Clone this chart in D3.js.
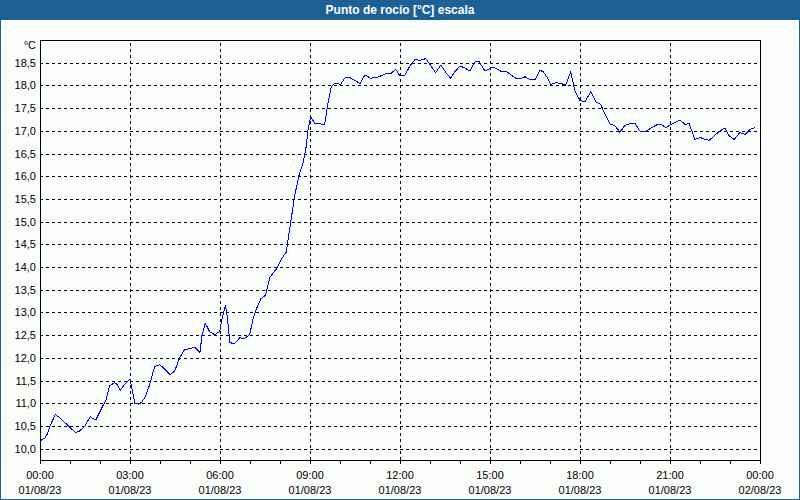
<!DOCTYPE html>
<html>
<head>
<meta charset="utf-8">
<script src="https://cdn.jsdelivr.net/npm/d3@7"></script>
<style>
  body { margin: 0; background: #ffffff; }
  #graf { width: 800px; height: 500px; }
</style>
</head>
<body>
<div id="graf"></div>
<script>
// Punto de rocío - 01/08/23

// horas del dia (desde las 00:00) de cada punto leido
horas = [
  0.02, 0.16, 0.24, 0.36, 0.51, 0.66, 0.93, 1.19, 1.32, 1.49, 1.68, 1.77, 1.86, 2.04, 2.21, 2.32,
  2.47, 2.54, 2.68, 2.82, 3.0, 3.09, 3.16, 3.30, 3.40, 3.52, 3.66, 3.82, 3.99, 4.16, 4.34, 4.49,
  4.66, 4.82, 5.04, 5.16, 5.24, 5.33, 5.40, 5.51, 5.66, 5.82, 5.99, 6.04, 6.18, 6.24, 6.33, 6.49,
  6.66, 6.82, 6.99, 7.10, 7.21, 7.36, 7.52, 7.66, 7.88, 8.04, 8.21, 8.32, 8.49, 8.63, 8.77, 8.86,
  8.93, 9.02, 9.16, 9.49, 9.60, 9.71, 9.84, 10.02, 10.17, 10.33, 10.5, 10.67, 10.83, 11.02, 11.22, 11.53,
  11.69, 11.86, 12.0, 12.17, 12.33, 12.5, 12.67, 12.86, 13.02, 13.19, 13.36, 13.53, 13.69, 13.83, 14.0, 14.17,
  14.33, 14.5, 14.64, 14.83, 15.06, 15.2, 15.39, 15.56, 15.7, 15.86, 16.06, 16.17, 16.33, 16.5, 16.67, 16.78,
  16.89, 17.02, 17.2, 17.39, 17.52, 17.69, 17.83, 18.0, 18.17, 18.36, 18.53, 18.69, 18.83, 19.0, 19.17, 19.33,
  19.5, 19.67, 19.83, 20.0, 20.2, 20.39, 20.58, 20.72, 20.87, 21.0, 21.17, 21.33, 21.5, 21.64, 21.83, 22.02,
  22.17, 22.31, 22.47, 22.67, 22.83, 22.97, 23.14, 23.33, 23.5, 23.67, 23.83
]

// punto de rocio en °C
rocio = [
  10.18, 10.23, 10.32, 10.54, 10.75, 10.68, 10.51, 10.35, 10.39, 10.49, 10.71, 10.66, 10.63, 10.87, 11.09, 11.38,
  11.45, 11.44, 11.29, 11.42, 11.53, 11.24, 11.00, 10.98, 11.03, 11.15, 11.42, 11.81, 11.85, 11.75, 11.63, 11.71,
  12.01, 12.18, 12.21, 12.23, 12.18, 12.12, 12.49, 12.76, 12.57, 12.51, 12.58, 12.78, 13.16, 12.92, 12.33, 12.32,
  12.44, 12.43, 12.51, 12.85, 13.07, 13.30, 13.38, 13.77, 13.96, 14.17, 14.33, 14.83, 15.57, 16.01, 16.30, 16.59,
  17.00, 17.31, 17.17, 17.14, 17.62, 17.97, 18.05, 18.02, 18.17, 18.17, 18.11, 18.04, 18.23, 18.16, 18.17, 18.26,
  18.26, 18.35, 18.21, 18.23, 18.43, 18.57, 18.55, 18.59, 18.44, 18.28, 18.45, 18.28, 18.16, 18.30, 18.43, 18.38,
  18.32, 18.52, 18.52, 18.32, 18.39, 18.38, 18.30, 18.30, 18.23, 18.16, 18.16, 18.19, 18.13, 18.13, 18.33, 18.30,
  18.19, 18.02, 18.06, 18.04, 18.00, 18.30, 17.88, 17.67, 17.64, 17.86, 17.64, 17.58, 17.37, 17.15, 17.11, 16.97,
  17.12, 17.16, 17.17, 16.99, 16.99, 17.07, 17.14, 17.13, 17.07, 17.13, 17.18, 17.24, 17.14, 17.16, 16.81, 16.85,
  16.81, 16.79, 16.89, 17.00, 17.06, 16.89, 16.81, 16.96, 16.92, 17.03, 17.07
]

// etiquetas del eje y
yTicks = [10, 10.5, 11, 11.5, 12, 12.5, 13, 13.5, 14, 14.5, 15, 15.5, 16, 16.5, 17, 17.5, 18, 18.5]

// etiquetas del eje x (cada 3 horas)
xTicks  = [0, 3, 6, 9, 12, 15, 18, 21, 24]
xHoras  = ['00:00', '03:00', '06:00', '09:00', '12:00', '15:00', '18:00', '21:00', '00:00']
xFechas = ['01/08/23', '01/08/23', '01/08/23', '01/08/23', '01/08/23', '01/08/23', '01/08/23', '01/08/23', '02/08/23']

titulo = 'Punto de rocío [°C] escala'

ancho_total = 800
alto_total  = 500

margins = {
  top: 40,
  left: 40,
  right: 40,
  bottom: 40
}
ancho = ancho_total - margins.left - margins.right
alto  = alto_total - margins.top - margins.bottom

fuente = 'Liberation Sans, Arial, sans-serif'
azul_marco = '#1d6096'

svg = d3.select('#graf').append('svg')
        .attr('width', ancho_total)
        .attr('height', alto_total)
        .style('font-family', fuente)

// fondo y marco
svg.append('rect')
  .attr('x', 0.5)
  .attr('y', 0.5)
  .attr('width', ancho_total - 1)
  .attr('height', alto_total - 1)
  .attr('fill', '#fbfdfb')
  .attr('stroke', azul_marco)

// barra del titulo
svg.append('rect')
  .attr('x', 0)
  .attr('y', 0)
  .attr('width', ancho_total)
  .attr('height', 20)
  .attr('fill', azul_marco)

svg.append('text')
  .attr('x', ancho_total / 2)
  .attr('y', 14)
  .attr('text-anchor', 'middle')
  .attr('font-size', '12px')
  .attr('font-weight', 'bold')
  .attr('fill', 'white')
  .text(titulo)

g = svg.append('g')
        .attr('transform', `translate(${ margins.left }, ${ margins.top })`)

// Escaladores
x = d3.scaleLinear().domain([0, 24]).range([0, ancho])
y = d3.scaleLinear().domain([9.75, 19.0]).range([alto, 0])

coma = d3.formatLocale({ decimal: ',', thousands: '.', grouping: [3], currency: ['', '€'] }).format('.1f')

// grilla horizontal
yAxisG = d3.axisLeft(y)
          .tickValues(yTicks)
          .tickFormat('')
          .tickSize(-ancho)
gy = g.append('g').call(yAxisG)
gy.select('.domain').remove()
gy.selectAll('line')
  .attr('stroke', 'black')
  .attr('stroke-dasharray', '3,3')
  .attr('shape-rendering', 'crispEdges')

// grilla vertical
xAxisG = d3.axisBottom(x)
          .tickValues(xTicks.slice(1, -1))
          .tickFormat('')
          .tickSize(-alto)
gx = g.append('g')
  .attr('transform', `translate(0,${alto})`)
  .call(xAxisG)
gx.select('.domain').remove()
gx.selectAll('line')
  .attr('stroke', 'black')
  .attr('stroke-dasharray', '3,3')
  .attr('shape-rendering', 'crispEdges')

// marco del grafico
g.append('rect')
  .attr('x', 0)
  .attr('y', 0)
  .attr('width', ancho)
  .attr('height', alto)
  .attr('stroke', 'black')
  .attr('fill', 'none')
  .attr('shape-rendering', 'crispEdges')

// marcas cada hora bajo el eje
xAxis = d3.axisBottom(x)
          .tickValues(d3.range(0, 25))
          .tickFormat('')
          .tickSize(4)
ga = g.append('g')
  .attr('transform', `translate(0,${alto})`)
  .call(xAxis)
ga.select('.domain').remove()
ga.selectAll('line').attr('stroke', 'black').attr('shape-rendering', 'crispEdges')

// etiquetas eje y
yAxis = d3.axisLeft(y)
          .tickValues(yTicks)
          .tickFormat(d => coma(d))
          .tickSize(0)
          .tickPadding(4)
ly = g.append('g').call(yAxis)
ly.select('.domain').remove()
ly.selectAll('text')
  .attr('font-family', fuente)
  .attr('font-size', '11px')
  .attr('fill', 'black')

// unidad
g.append('text')
  .attr('x', -4)
  .attr('y', 9)
  .attr('text-anchor', 'end')
  .attr('font-size', '11px')
  .text('°C')

// etiquetas eje x: hora y fecha
xTicks.forEach((d, i) => {
  g.append('text')
    .attr('x', x(d))
    .attr('y', alto + 19)
    .attr('text-anchor', 'middle')
    .attr('font-size', '11px')
    .text(xHoras[i])
  g.append('text')
    .attr('x', x(d))
    .attr('y', alto + 34)
    .attr('text-anchor', 'middle')
    .attr('font-size', '11px')
    .text(xFechas[i])
})

// la linea (sin suavizado, como el original)
datos = horas.map((h, i) => ({ h: h, v: rocio[i] }))

linea = d3.line()
          .x(d => x(d.h))
          .y(d => y(d.v))

g.append('path')
  .datum(datos)
  .attr('d', linea)
  .attr('fill', 'none')
  .attr('stroke', '#0000ff')
  .attr('stroke-width', 1)
  .attr('shape-rendering', 'crispEdges')
</script>
</body>
</html>
